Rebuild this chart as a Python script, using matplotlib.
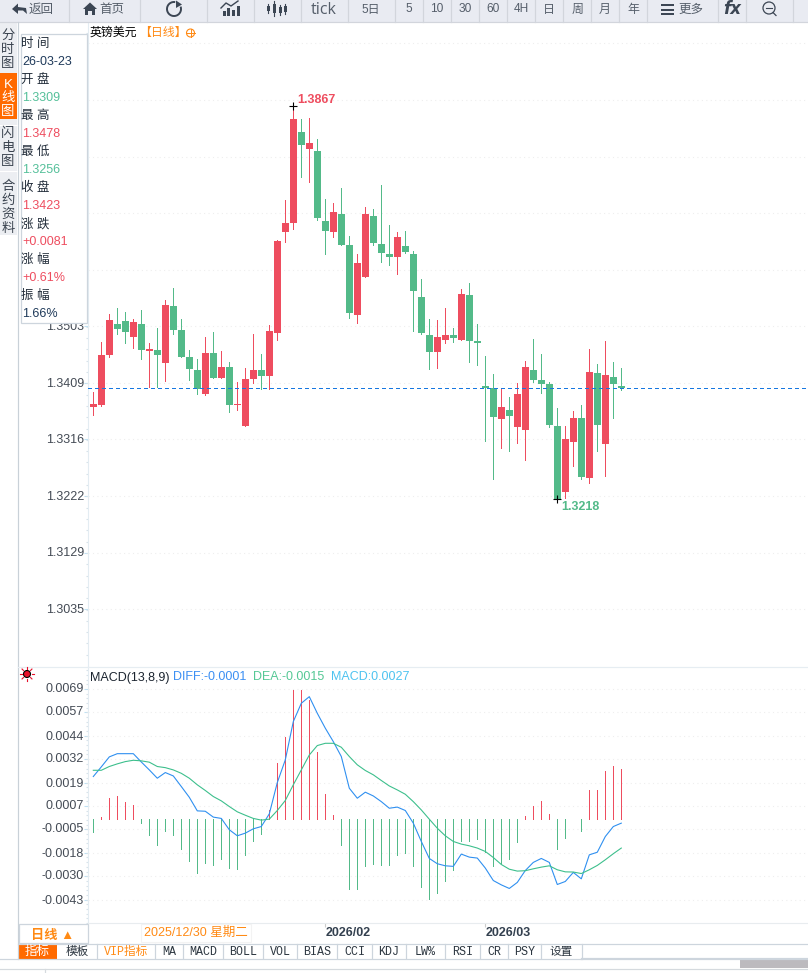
import matplotlib
matplotlib.use('Agg')
import matplotlib.pyplot as plt
import numpy as np
from matplotlib.patches import Rectangle, Circle, Polygon, Arc
from matplotlib.transforms import ScaledTranslation

plt.rcParams['font.family'] = ['Liberation Sans', 'Noto Sans CJK SC', 'DejaVu Sans']

opens = [1.3370, 1.3373, 1.3456, 1.3507, 1.3512, 1.3485, 1.3507, 1.3462, 1.3464, 1.3442,
         1.3537, 1.3497, 1.3452, 1.3431, 1.3391, 1.3459, 1.3418, 1.3436, 1.3373, 1.3338,
         1.3416, 1.3431, 1.3421, 1.3492, 1.3659, 1.3674, 1.3824, 1.3796, 1.3793, 1.3677,
         1.3659, 1.3689, 1.3637, 1.3522, 1.3585, 1.3685, 1.3639, 1.3623, 1.3618, 1.3636,
         1.3623, 1.3552, 1.3489, 1.3461, 1.3480, 1.3489, 1.3480, 1.3555, 1.3479, 1.3404,
         1.3401, 1.3350, 1.3365, 1.3337, 1.3332, 1.3431, 1.3414, 1.3408, 1.3338, 1.3229,
         1.3312, 1.3351, 1.3252, 1.3426, 1.3309, 1.3419, 1.3404]
highs = [1.3394, 1.3477, 1.3523, 1.3533, 1.3527, 1.3515, 1.3530, 1.3475, 1.3500, 1.3547,
         1.3566, 1.3515, 1.3464, 1.3449, 1.3485, 1.3494, 1.3462, 1.3444, 1.3411, 1.3434,
         1.3490, 1.3457, 1.3505, 1.3646, 1.3712, 1.3867, 1.3846, 1.3847, 1.3813, 1.3714,
         1.3707, 1.3732, 1.3652, 1.3623, 1.3700, 1.3697, 1.3737, 1.3671, 1.3659, 1.3661,
         1.3628, 1.3581, 1.3515, 1.3513, 1.3533, 1.3500, 1.3565, 1.3575, 1.3507, 1.3454,
         1.3424, 1.3401, 1.3386, 1.3409, 1.3446, 1.3482, 1.3457, 1.3411, 1.3368, 1.3338,
         1.3363, 1.3373, 1.3466, 1.3441, 1.3478, 1.3444, 1.3434]
lows = [1.3356, 1.3371, 1.3452, 1.3490, 1.3475, 1.3467, 1.3449, 1.3402, 1.3402, 1.3413,
        1.3490, 1.3452, 1.3414, 1.3391, 1.3390, 1.3418, 1.3418, 1.3361, 1.3365, 1.3338,
        1.3409, 1.3399, 1.3399, 1.3480, 1.3642, 1.3664, 1.3750, 1.3742, 1.3679, 1.3623,
        1.3651, 1.3637, 1.3517, 1.3509, 1.3585, 1.3637, 1.3609, 1.3604, 1.3590, 1.3624,
        1.3495, 1.3490, 1.3432, 1.3434, 1.3475, 1.3477, 1.3480, 1.3444, 1.3439, 1.3313,
        1.3251, 1.3302, 1.3297, 1.3310, 1.3282, 1.3411, 1.3393, 1.3337, 1.3218, 1.3219,
        1.3272, 1.3251, 1.3244, 1.3297, 1.3256, 1.3351, 1.3398]
closes = [1.3375, 1.3456, 1.3513, 1.3499, 1.3494, 1.3510, 1.3464, 1.3466, 1.3456, 1.3538,
          1.3497, 1.3452, 1.3432, 1.3399, 1.3459, 1.3418, 1.3436, 1.3373, 1.3375, 1.3416,
          1.3431, 1.3421, 1.3495, 1.3644, 1.3674, 1.3846, 1.3803, 1.3806, 1.3682, 1.3661,
          1.3692, 1.3637, 1.3525, 1.3608, 1.3689, 1.3641, 1.3624, 1.3618, 1.3651, 1.3626,
          1.3561, 1.3492, 1.3461, 1.3485, 1.3489, 1.3484, 1.3556, 1.3479, 1.3475, 1.3401,
          1.3353, 1.3370, 1.3355, 1.3391, 1.3436, 1.3414, 1.3408, 1.3340, 1.3218, 1.3317,
          1.3351, 1.3254, 1.3428, 1.3340, 1.3423, 1.3408, 1.3401]

macd_hist = [-.00067, .00012, .00113, .00123, .00092, .00076, -.00019, -.00083, -.00136, -.00062,
             -.00083, -.00157, -.00221, -.00284, -.00231, -.00242, -.0021, -.00258, -.00263, -.00189,
             -.00115, -.00078, .00049, .00298, .00436, .00684, .00684, .00632, .00356, .00134,
             .00023, -.00136, -.00369, -.00369, -.00247, -.00236, -.00242, -.00242, -.00189, -.00178,
             -.00247, -.00358, -.00422, -.0039, -.00326, -.00268, -.00115, -.00115, -.00104, -.00173,
             -.00247, -.00231, -.0021, -.0012, .00018, .00071, .00097, .00028, -.00157, -.00099,
             .00002, -.00062, .00155, .00155, .00256, .00282, .00266]
diff_line = [.00226, .00277, .0033, .00347, .00347, .00347, .00303, .00261, .00217, .00247,
             .00229, .00173, .00116, .00044, .00042, .00011, .00004, -.00056, -.00088, -.00074,
             -.00051, -.00039, .00028, .00194, .00314, .00517, .00614, .00649, .00561, .00482,
             .00411, .00332, .00164, .00111, .00143, .00123, .00093, .00058, .00064, .00046,
             -.00021, -.00118, -.00208, -.00236, -.00247, -.0025, -.00185, -.00201, -.00206, -.00259,
             -.00325, -.00348, -.00367, -.00335, -.00272, -.00229, -.00208, -.00229, -.00346, -.0033,
             -.00282, -.00316, -.00189, -.00175, -.00092, -.00039, -.00021]
dea_line = [.00259, .00259, .00279, .00293, .00305, .00312, .00309, .00302, .00279, .00273,
            .00261, .00243, .00217, .00182, .00152, .0012, .00097, .00067, .00039, .00021,
            .00004, -.00005, 0.0, .00046, .00099, .00182, .00261, .0034, .0039, .00402,
            .00402, .00381, .00332, .00288, .00258, .00235, .00205, .00176, .00155, .00132,
            .00093, .00049, 0.0, -.00048, -.00088, -.00118, -.00132, -.00141, -.00153, -.00171,
            -.00203, -.0024, -.00265, -.00275, -.00273, -.00263, -.00254, -.00247, -.00268, -.00279,
            -.0028, -.00288, -.00268, -.00245, -.00215, -.00183, -.00153]

price_ticks = [1.3035, 1.3129, 1.3222, 1.3316, 1.3409, 1.3503, 1.3596, 1.3690, 1.3783, 1.3877, 1.3971]
price_labels = ['1.3035', '1.3129', '1.3222', '1.3316', '1.3409', '1.3503', '', '', '', '', '']
macd_ticks = [.0069, .0057, .0044, .0032, .0019, .0007, -.0005, -.0018, -.0030, -.0043]
macd_labels = ['0.0069', '0.0057', '0.0044', '0.0032', '0.0019', '0.0007',
               '-0.0005', '-0.0018', '-0.0030', '-0.0043']
date_ticks = [29, 49]
date_labels = ['2026/02', '2026/03']

toolbar_right = ['tick', '5日', '5', '10', '30', '60', '4H', '日', '周', '月', '年']
bottom_tabs = ['模板', 'VIP指标', 'MA', 'MACD', 'BOLL', 'VOL', 'BIAS', 'CCI', 'KDJ', 'LW%', 'RSI', 'CR', 'PSY', '设置']
info_rows = [('时 间', '26-03-23', '#1f3a5a'), ('开 盘', '1.3309', '#55c09a'), ('最 高', '1.3478', '#ee4d5f'),
             ('最 低', '1.3256', '#55c09a'), ('收 盘', '1.3423', '#ee4d5f'), ('涨 跌', '+0.0081', '#ee4d5f'),
             ('涨 幅', '+0.61%', '#ee4d5f'), ('振 幅', '1.66%', '#1f3a5a')]

RED = '#ee4d5f'
GREEN = '#53ba89'
ORANGE = '#ff8a14'
W, H = 808, 973
PX = 0.72


def pixel_axes(fig, left, top, right, bottom, **kw):
    return fig.add_axes([left / W, 1 - bottom / H, (right - left) / W, (bottom - top) / H], **kw)


def style_axis(ax, ticks, labels, minor):
    ax.set_xlim((88 - 93.3) / 8, (808 - 93.3) / 8)
    for side in ['top', 'right', 'bottom']:
        ax.spines[side].set_visible(False)
    ax.spines['left'].set_color('#e3ecf2')
    ax.set_yticks(ticks)
    ax.set_yticklabels(labels, fontsize=9, color='#444b55')
    ax.set_yticks(minor, minor=True)
    ax.tick_params(axis='y', which='major', length=3, width=0.8, color='#bfe0f2', pad=0)
    ax.tick_params(axis='y', which='minor', length=1.5, width=0.8, color='#d8e2ea')
    ax.grid(axis='y', which='major', color='#eeeeee', linestyle=(0, (1, 3)), linewidth=0.8)
    ax.set_axisbelow(True)
    # labels sit a little above their tick in the original
    up = ScaledTranslation(0, 1 / 100, ax.figure.dpi_scale_trans)
    for lab in ax.get_yticklabels():
        lab.set_transform(lab.get_transform() + up)


def draw_candles(ax):
    x = np.arange(len(opens))
    o, h, l, c = map(np.array, (opens, highs, lows, closes))
    colors = [RED if cc >= oo else GREEN for oo, cc in zip(o, c)]
    ax.vlines(x, l, h, colors=colors, linewidth=PX, antialiased=False, zorder=3)
    ax.bar(x, np.abs(c - o), width=0.875, bottom=np.minimum(o, c), color=colors, linewidth=0, zorder=4)
    ax.axhline(closes[-1], color='#1677e0', linestyle=(0, (4, 3)), linewidth=PX, antialiased=False, zorder=5)

    top = int(np.argmax(highs))
    bot = int(np.argmin(lows))
    ax.plot([top], [highs[top]], marker='+', color='black', markersize=6, markeredgewidth=0.8, zorder=6)
    ax.plot([bot], [lows[bot]], marker='+', color='black', markersize=6, markeredgewidth=0.8, zorder=6)
    ax.annotate('%.4f' % highs[top], (top, highs[top]), xytext=(4, 0), textcoords='offset pixels',
                color=RED, fontsize=9, fontweight='bold', va='bottom')
    ax.annotate('%.4f' % lows[bot], (bot, lows[bot]), xytext=(4, -2), textcoords='offset pixels',
                color=GREEN, fontsize=9, fontweight='bold', va='top')


def draw_macd(ax):
    x = np.arange(len(macd_hist))
    colors = [RED if v >= 0 else GREEN for v in macd_hist]
    ax.vlines(x, 0, macd_hist, colors=colors, linewidth=PX, antialiased=False, zorder=3)
    ax.plot(x, diff_line, color='#2e8ff0', linewidth=1.1 * PX, zorder=4)
    ax.plot(x, dea_line, color='#3cbf8c', linewidth=1.1 * PX, zorder=4)
    ax.set_xticks(date_ticks)
    ax.set_xticklabels(date_labels, fontsize=9, fontweight='bold', color='#33404f', ha='left')
    ax.tick_params(axis='x', length=3, width=0.8, color='#cccccc', pad=0)
    ax.spines['bottom'].set_visible(True)
    ax.spines['bottom'].set_color('#e8ecef')


def draw_toolbar(ov):
    ov.add_patch(Rectangle((0, 0), W, 21.5, color='#e9ebf2', lw=0))
    for sx in [69, 140, 207, 254, 301, 348, 395, 423, 451, 479, 507, 535, 563, 591, 619, 647, 718, 746, 793]:
        ov.plot([sx, sx], [0, 21.5], color='#d2d5dc', lw=1.2 * PX)
    ov.plot([0, W], [21.5, 21.5], color='#d2d5dc', lw=1.2 * PX)
    ink = '#3c4654'
    ov.text(41, 10, '返回', fontsize=9, color='#555e6a', ha='center', va='center')
    ov.add_patch(Polygon([[12, 9], [18, 3.5], [18, 7], [26, 8], [27, 14], [23, 10.5], [18, 10.5], [18, 14]], color=ink, lw=0))
    ov.text(112, 10, '首页', fontsize=9, color='#555e6a', ha='center', va='center')
    ov.add_patch(Polygon([[83, 9], [90, 2.5], [97, 9], [95, 9], [95, 15], [92, 15], [92, 11], [88, 11], [88, 15], [85, 15], [85, 9]], color=ink, lw=0))
    ov.add_patch(Arc((174, 9), 14, 14, theta1=-20, theta2=280, color=ink, lw=1.4))
    ov.add_patch(Polygon([[176, 0.5], [182, 4.5], [176, 8]], color=ink, lw=0))
    for bx, bh in [(223, 5), (227, 8), (232, 6), (237, 10)]:
        ov.add_patch(Rectangle((bx, 15.5 - bh), 3.2, bh, color=ink, lw=0))
    ov.plot([221, 226, 231, 238], [8, 3, 6, 1], color=ink, lw=1)
    for cx, t, b, bt, bb in [(268, 4, 13, 6, 11), (274, 1, 16, 4, 13), (280, 5, 15, 7, 13), (285, 4, 14, 6, 12)]:
        ov.plot([cx, cx], [t, b], color=ink, lw=0.8)
        ov.add_patch(Rectangle((cx - 1.5, bt), 3, bb - bt, color=ink, lw=0))
    ov.text(324, 10, toolbar_right[0], fontsize=11.5, color='#555e6a', ha='center', va='center', family='Open Sans')
    centers = [371, 409, 437, 465, 493, 521, 549, 577, 605, 633]
    for cx, lab in zip(centers, toolbar_right[1:]):
        ov.text(cx, 9.5, lab, fontsize=8.6, color='#555e6a', ha='center', va='center')
    for hy in [4, 8.5, 13]:
        ov.add_patch(Rectangle((661, hy), 13, 2, color=ink, lw=0))
    ov.text(691, 9.5, '更多', fontsize=9, color='#555e6a', ha='center', va='center')
    ov.text(732, 9, 'fx', fontsize=12, color=ink, ha='center', va='center', style='italic', fontweight='bold', family='DejaVu Sans')
    ov.add_patch(Circle((769, 8), 6, fill=False, edgecolor=ink, lw=0.9))
    ov.plot([766, 772], [8, 8], color=ink, lw=0.8)
    ov.plot([773, 776], [12.5, 15.5], color=ink, lw=0.9)


def draw_side(ov):
    ov.plot([17.5, 17.5], [22, 958], color='#c9d1d8', lw=1.2 * PX)
    ov.add_patch(Rectangle((0, 22), 17, 213, color='#eceef2', lw=0))
    ov.add_patch(Rectangle((0, 73), 17, 46, color='#ff6a00', lw=0))
    ov.plot([0, 17], [125, 125], color='white', lw=0.8)
    ov.plot([0, 17], [171, 171], color='white', lw=0.8)
    tabs = [(35, '分'), (49, '时'), (63, '图'), (84, 'K'), (98, '线'), (112, '图'), (133, '闪'), (147, '电'),
            (161, '图'), (186, '合'), (200, '约'), (214, '资'), (228, '料')]
    for ty, lab in tabs:
        col = 'white' if 73 < ty < 119 else '#3b4450'
        ov.text(8, ty + 0.5, lab, fontsize=9.6, color=col, ha='center', va='center')

    ov.add_patch(Rectangle((20.5, 33.5), 66.5, 289.5, facecolor='white', edgecolor='#cdd5dd', lw=0.9))
    for k, (name, value, col) in enumerate(info_rows):
        ov.text(21, 44 + 36 * k, name, fontsize=9, color='#222d3a', va='center')
        ov.text(22.5, 62 + 36 * k, value, fontsize=9, color=col, va='center')


def draw_titles(ov):
    ov.text(90, 32.5, '英镑美元', fontsize=8.6, color='black', va='center')
    ov.text(139, 32.5, '【日线】', fontsize=8.6, color=ORANGE, va='center')
    ov.add_patch(Circle((190.5, 33), 4, fill=False, edgecolor=ORANGE, lw=0.8))
    ov.plot([186.5, 194.5], [33, 33], color=ORANGE, lw=0.7)
    ov.plot([190.5, 190.5], [29, 37], color=ORANGE, lw=0.7)

    ov.plot([18, W], [666.5, 666.5], color='#e6edf2', lw=1.2 * PX)
    ov.text(90, 677.5, 'MACD(13,8,9)', fontsize=9, color='#1c2530', va='center')
    ov.text(173, 677.5, 'DIFF:-0.0001', fontsize=9, color='#3b8ff3', va='center')
    ov.text(253, 677.5, 'DEA:-0.0015', fontsize=9, color='#55c895', va='center')
    ov.text(331, 677.5, 'MACD:0.0027', fontsize=9, color='#4ec3f0', va='center')
    ov.add_patch(Circle((27, 674), 3.5, facecolor='#e8102a', edgecolor='black', lw=0.8))
    for a in np.deg2rad(np.arange(0, 360, 45)):
        ov.plot([27 + 5 * np.cos(a), 27 + 7 * np.cos(a)], [674 + 5 * np.sin(a), 674 + 7 * np.sin(a)], color='#e8102a', lw=0.8)


def draw_bottom(ov):
    ov.add_patch(Rectangle((18.5, 923.5), 69, 19, facecolor='white', edgecolor='#cdd5dd', lw=0.9))
    ov.text(53, 935.5, '日线 ▲', fontsize=9.5, color=ORANGE, ha='center', va='center', fontweight='bold')
    ov.add_patch(Rectangle((141, 924), 110, 18, facecolor='white', edgecolor='#f3f3f3', lw=0.8))
    ov.text(196, 932.5, '2025/12/30 星期二', fontsize=9, color=ORANGE, ha='center', va='center')

    ov.plot([18, W], [943.5, 943.5], color='#cdd5dd', lw=1.2 * PX)
    ov.add_patch(Rectangle((18, 943.5), 39, 15, color='#ff6a00', lw=0))
    ov.text(37.5, 952, '指标', fontsize=9, color='white', ha='center', va='center')
    edges = [57, 97, 155, 183, 223, 263, 297, 337, 372, 406, 445, 480, 508, 541, 582]
    for k, lab in enumerate(bottom_tabs):
        col = ORANGE if lab.startswith('VIP') else '#2c3640'
        fam = ['Liberation Mono', 'Noto Sans CJK SC']
        ov.text((edges[k] + edges[k + 1]) / 2, 952, lab, fontsize=8.4, color=col, ha='center', va='center', family=fam)
        ov.plot([edges[k + 1], edges[k + 1]], [943.5, 958], color='#cdd5dd', lw=1.2 * PX)
    ov.plot([18, 582], [958.5, 958.5], color='#cdd5dd', lw=1.2 * PX)
    ov.plot([582, W], [958.8, 958.8], color='#cdd5dd', lw=1.6)
    ov.plot([0, 18], [958.5, 958.5], color='#cdd5dd', lw=1.2 * PX)
    ov.add_patch(Rectangle((740, 960), 68, 8, color='#bcbabe', lw=0))
    ov.plot([0, W], [968.5, 968.5], color='#d5dade', lw=1.2 * PX)
    ov.plot([44.5, 44.5], [968.5, 973], color='#d5dade', lw=1.2 * PX)


def main():
    fig = plt.figure(figsize=(W / 100, H / 100), dpi=100)

    ax_price = pixel_axes(fig, 88, 22, W, 666)
    ax_price.set_ylim(1.3503 + (326.3 - 666) * 0.0001653, 1.3503 + (326.3 - 22) * 0.0001653)
    style_axis(ax_price, price_ticks, price_labels, np.arange(1.2960, 1.4000, 0.00187))
    ax_price.set_xticks([])
    draw_candles(ax_price)

    ax_macd = pixel_axes(fig, 88, 667, W, 923)
    ax_macd.set_ylim((478 - 789) * 0.00001764, (478 - 21) * 0.00001764)
    style_axis(ax_macd, macd_ticks, macd_labels, np.arange(-.0055, .0080, 0.000248))
    draw_macd(ax_macd)

    ov = pixel_axes(fig, 0, 0, W, H, zorder=10)
    ov.set_xlim(0, W)
    ov.set_ylim(H, 0)
    ov.axis('off')
    ov.patch.set_alpha(0)
    draw_toolbar(ov)
    draw_side(ov)
    draw_titles(ov)
    draw_bottom(ov)

    fig.savefig('out.png', dpi=100)


if __name__ == '__main__':
    main()
